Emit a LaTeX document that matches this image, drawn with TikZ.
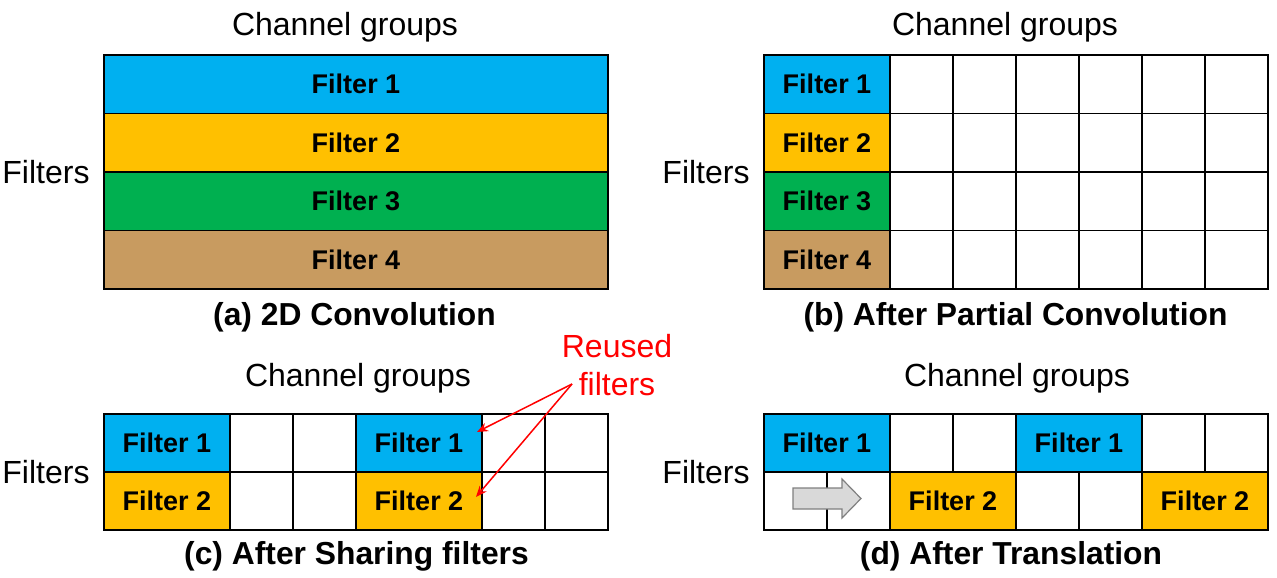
\documentclass[tikz,border=0pt]{standalone}
\usepackage{fontspec}
\setmainfont{Liberation Sans}
\usetikzlibrary{arrows.meta}
\definecolor{fblue}{HTML}{00B0F0}
\definecolor{fyellow}{HTML}{FFC000}
\definecolor{fgreen}{HTML}{00B050}
\definecolor{fbrown}{HTML}{C89B60}
\definecolor{agray}{HTML}{D9D9D9}
\definecolor{aedge}{HTML}{7F7F7F}
\tikzset{
  cell/.style={draw=black, line width=1.8pt, inner sep=0pt, outer sep=0pt, anchor=north west,
    minimum width=63pt, minimum height=58.5pt, font=\fontsize{27}{30}\selectfont\bfseries},
  wcell/.style={cell, minimum width=126pt},
  acell/.style={cell, minimum width=504pt},
  lbl/.style={font=\fontsize{32}{36}\selectfont, inner sep=0pt},
  captxt/.style={font=\fontsize{31.8}{36}\selectfont\bfseries, inner sep=0pt},
  redlbl/.style={font=\fontsize{32}{38}\selectfont, text=red, inner sep=0pt, align=center},
  redarr/.style={draw=red, line width=1.5pt, -{Stealth[length=11pt,width=9pt]}},
}
\begin{document}
\begin{tikzpicture}[x=1pt,y=-1pt]
\useasboundingbox (0,0) rectangle (1277,578);
% ---------- (a) ----------
\node[lbl] (a-ch) at (345,27) {Channel groups};
\node[lbl] (a-fl) at (46,172) {Filters};
\node[acell, fill=fblue] (a1) at (104,55) {Filter 1};
\node[acell, fill=fyellow] (a2) at (104,113.5) {Filter 2};
\node[acell, fill=fgreen] (a3) at (104,172) {Filter 3};
\node[acell, fill=fbrown] (a4) at (104,230.5) {Filter 4};
\draw[line width=2.6pt] (a1.north west) rectangle (a4.south east);
\node[captxt] (a-cap) at (354.5,317) {(a) 2D Convolution};
% ---------- (b) ----------
\node[lbl] (b-ch) at (1005,27) {Channel groups};
\node[lbl] (b-fl) at (706,172) {Filters};
\node[wcell, fill=fblue] (b1) at (764,55) {Filter 1};
\node[wcell, fill=fyellow] (b2) at (764,113.5) {Filter 2};
\node[wcell, fill=fgreen] (b3) at (764,172) {Filter 3};
\node[wcell, fill=fbrown] (b4) at (764,230.5) {Filter 4};
\foreach \r/\y in {1/55,2/113.5,3/172,4/230.5}{
  \foreach \c in {0,...,5}{
    \node[cell] (b\r-\c) at ({890+63*\c},\y) {};
  }
}
\node[captxt] (b-cap) at (1015.5,317) {(b) After Partial Convolution};
% ---------- (c) ----------
\node[lbl] (c-ch) at (358,378) {Channel groups};
\node[lbl] (c-fl) at (46,472) {Filters};
\node[wcell, fill=fblue, minimum height=58pt] (c1a) at (104,414) {Filter 1};
\node[cell, minimum height=58pt] (c1b) at (230,414) {};
\node[cell, minimum height=58pt] (c1c) at (293,414) {};
\node[wcell, fill=fblue, minimum height=58pt] (c1d) at (356,414) {Filter 1};
\node[cell, minimum height=58pt] (c1e) at (482,414) {};
\node[cell, minimum height=58pt] (c1f) at (545,414) {};
\node[wcell, fill=fyellow, minimum height=58pt] (c2a) at (104,472) {Filter 2};
\node[cell, minimum height=58pt] (c2b) at (230,472) {};
\node[cell, minimum height=58pt] (c2c) at (293,472) {};
\node[wcell, fill=fyellow, minimum height=58pt] (c2d) at (356,472) {Filter 2};
\node[cell, minimum height=58pt] (c2e) at (482,472) {};
\node[cell, minimum height=58pt] (c2f) at (545,472) {};
\node[captxt] (c-cap) at (356.5,556) {(c) After Sharing filters};
\node[redlbl] (reused) at (617,365) {Reused\\filters};
\coordinate (rsrc) at (572,384);
\coordinate (rt1) at (477,432);
\coordinate (rt2) at (476,497);
\draw[redarr] (rsrc) -- (rt1);
\draw[redarr] (rsrc) -- (rt2);
% ---------- (d) ----------
\node[lbl] (d-ch) at (1017,378) {Channel groups};
\node[lbl] (d-fl) at (706,472) {Filters};
\node[wcell, fill=fblue, minimum height=58pt] (d1a) at (764,414) {Filter 1};
\node[cell, minimum height=58pt] (d1b) at (890,414) {};
\node[cell, minimum height=58pt] (d1c) at (953,414) {};
\node[wcell, fill=fblue, minimum height=58pt] (d1d) at (1016,414) {Filter 1};
\node[cell, minimum height=58pt] (d1e) at (1142,414) {};
\node[cell, minimum height=58pt] (d1f) at (1205,414) {};
\node[cell, minimum height=58pt] (d2a) at (764,472) {};
\node[cell, minimum height=58pt] (d2b) at (827,472) {};
\node[wcell, fill=fyellow, minimum height=58pt] (d2c) at (890,472) {Filter 2};
\node[cell, minimum height=58pt] (d2d) at (1016,472) {};
\node[cell, minimum height=58pt] (d2e) at (1079,472) {};
\node[wcell, fill=fyellow, minimum height=58pt] (d2f) at (1142,472) {Filter 2};
\draw[fill=agray, draw=aedge, line width=1.2pt]
  (793,488) -- (842,488) -- (842,479) -- (861,498.5) -- (842,518) -- (842,509) -- (793,509) -- cycle;
\node[captxt] (d-cap) at (1011,556) {(d) After Translation};
\end{tikzpicture}
\end{document}
